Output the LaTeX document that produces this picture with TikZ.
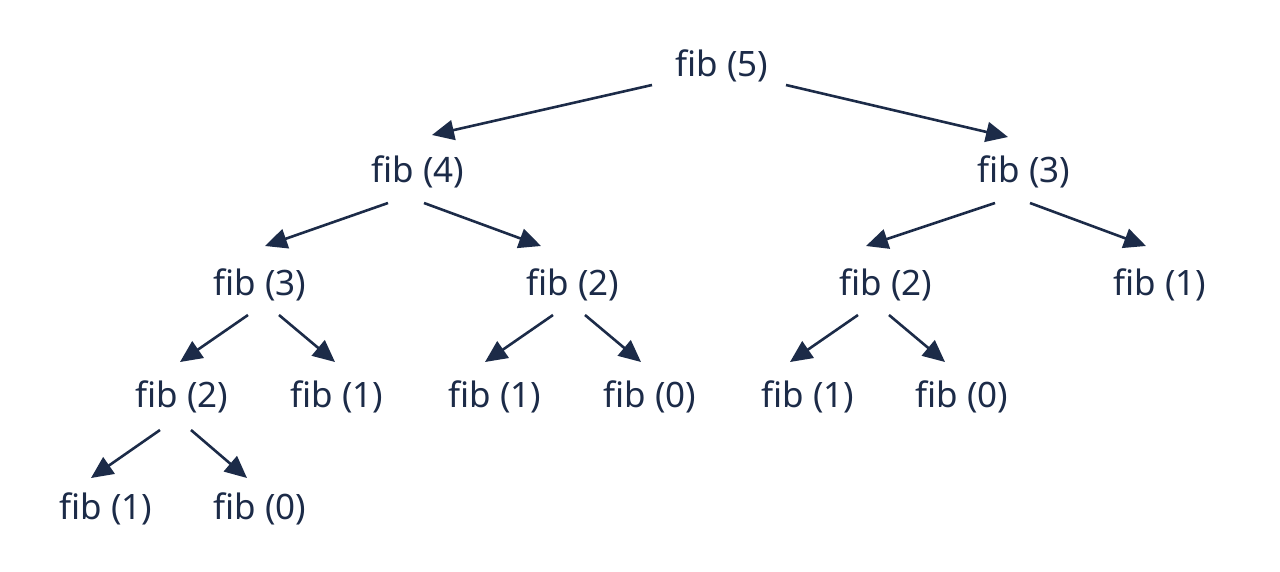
\documentclass[tikz,border=0pt]{standalone}
\usepackage{fontspec}
\setmainfont{Noto Sans}
\usetikzlibrary{arrows.meta}
\definecolor{navy}{HTML}{1C2B48}
\begin{document}
\begin{tikzpicture}[x=1pt,y=-1pt,
  lbl/.style={text=navy,inner sep=0pt,font=\fontsize{35}{42}\selectfont},
  arr/.style={draw=navy,line width=2.6pt,-{Triangle[length=22pt,width=20pt]}}]
\useasboundingbox (0,0) rectangle (1280,571);
\node[lbl] (n5) at (722,66) {fib (5)};
\node[lbl] (n4) at (418,172) {fib (4)};
\node[lbl] (n3r) at (1024,172) {fib (3)};
\node[lbl] (n3l) at (260,285) {fib (3)};
\node[lbl] (n2m) at (573,285) {fib (2)};
\node[lbl] (n2r) at (886,285) {fib (2)};
\node[lbl] (n1r) at (1160,285) {fib (1)};
\node[lbl] (a2) at (182,397) {fib (2)};
\node[lbl] (a1) at (337,397) {fib (1)};
\node[lbl] (b1) at (495,397) {fib (1)};
\node[lbl] (b0) at (650,397) {fib (0)};
\node[lbl] (c1) at (808,397) {fib (1)};
\node[lbl] (c0) at (962,397) {fib (0)};
\node[lbl] (d1) at (106,509) {fib (1)};
\node[lbl] (d0) at (260,509) {fib (0)};
\draw[arr] ([shift={(-70,19)}]n5.center) -- ([shift={(14,-37)}]n4.center);
\draw[arr] ([shift={(64,19)}]n5.center) -- ([shift={(-16,-35)}]n3r.center);
\draw[arr] ([shift={(-30,31)}]n4.center) -- ([shift={(5,-39)}]n3l.center);
\draw[arr] ([shift={(6,31)}]n4.center) -- ([shift={(-32,-39)}]n2m.center);
\draw[arr] ([shift={(-29,31)}]n3r.center) -- ([shift={(-20,-39)}]n2r.center);
\draw[arr] ([shift={(6,31)}]n3r.center) -- ([shift={(-14,-39)}]n1r.center);
\draw[arr] ([shift={(-12,30)}]n3l.center) -- ([shift={(-2,-35)}]a2.center);
\draw[arr] ([shift={(19,30)}]n3l.center) -- ([shift={(-2,-35)}]a1.center);
\draw[arr] ([shift={(-20,30)}]n2m.center) -- ([shift={(-10,-35)}]b1.center);
\draw[arr] ([shift={(12,30)}]n2m.center) -- ([shift={(-9,-35)}]b0.center);
\draw[arr] ([shift={(-28,30)}]n2r.center) -- ([shift={(-18,-35)}]c1.center);
\draw[arr] ([shift={(3,30)}]n2r.center) -- ([shift={(-17,-35)}]c0.center);
\draw[arr] ([shift={(-22,33)}]a2.center) -- ([shift={(-15,-31)}]d1.center);
\draw[arr] ([shift={(9,33)}]a2.center) -- ([shift={(-13,-31)}]d0.center);
\end{tikzpicture}
\end{document}
